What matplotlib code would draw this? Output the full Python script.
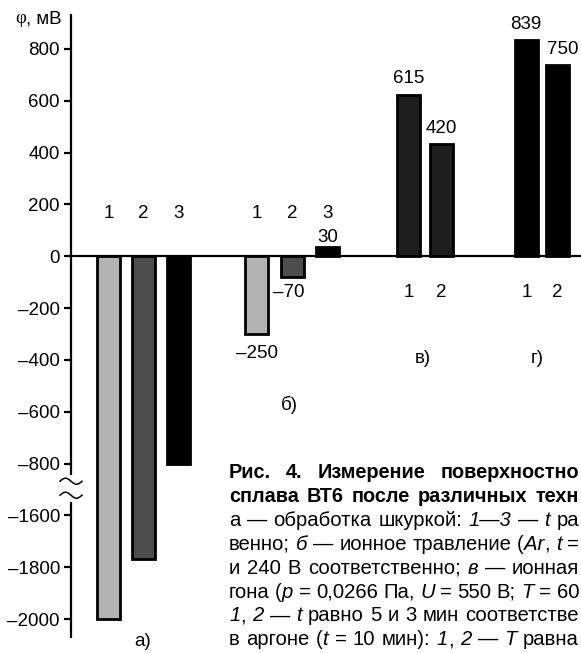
import numpy as np
import matplotlib
matplotlib.use('Agg')
import matplotlib.pyplot as plt
import matplotlib.transforms as mtransforms
from matplotlib.ticker import FixedLocator, FixedFormatter

plt.rcParams['font.family'] = ['Liberation Sans', 'DejaVu Sans']

# ---------------- data ----------------
group_names = ['а)', 'б)', 'в)', 'г)']
a_values = [-2000, -1770, -800]
b_values = [-300, -80, 35]
v_values = [623, 433]
g_values = [836, 739]
a_numbers = ['1', '2', '3']
b_numbers = ['1', '2', '3']
v_numbers = ['1', '2']
g_numbers = ['1', '2']
b_value_labels = ['–250', '–70', '30']
v_value_labels = ['615', '420']
g_value_labels = ['839', '750']
ytick_values = [800, 600, 400, 200, 0, -200, -400, -600, -800, -1600, -1800, -2000]
ytick_labels = ['800', '600', '400', '200', '0', '–200', '–400', '–600', '–800',
                '–1600', '–1800', '–2000']
ylabel_symbol = 'φ'
ylabel_unit = ', мВ'

# visible part of the figure caption; '|' toggles italic
caption_lines = [
    ('bold', 'Рис. 4. Измерение поверхностно'),
    ('bold', 'сплава ВТ6 после различных техн'),
    ('normal', 'а — обработка шкуркой: |1—3| — |t| ра'),
    ('normal', 'венно; |б| — ионное травление (|Ar|, |t| ='),
    ('normal', 'и 240 В соответственно; |в| — ионная'),
    ('normal', 'гона (|p| = 0,0266 Па, |U| = 550 В; |T| = 60'),
    ('normal', '|1|, |2| — |t| равно 5 и 3 мин соответстве'),
    ('normal', 'в аргоне (|t| = 10 мин): |1|, |2| — |T| равна'),
]

# ---------------- styles / layout ----------------
LIGHT = '#b3b3b3'
MID = '#4d4d4d'
DARK = '#1e1e1e'
BLACK = '#000000'
a_colors = [LIGHT, MID, BLACK]
b_colors = [LIGHT, MID, BLACK]
v_colors = [DARK, DARK]
g_colors = [BLACK, BLACK]

W, H = 581, 653
fig = plt.figure(figsize=(W / 100, H / 100), dpi=100)
ax = fig.add_axes([71 / W, 15 / H, 510 / W, 624 / H])


def fwd(v):
    v = np.asarray(v, dtype=float)
    return np.where(v >= -800, v,
                    np.where(v >= -1600, -800 + (v + 800) * 0.25, v + 600))


def inv(d):
    d = np.asarray(d, dtype=float)
    return np.where(d >= -800, d,
                    np.where(d >= -1000, -800 + (d + 800) * 4.0, d - 600))


ax.set_yscale('function', functions=(fwd, inv))
ax.set_xlim(0, 510)
ax.set_ylim(-2073, 935)

BAR_W = 23
groups = [
    (a_values, a_colors, 37.5, 35.0),
    (b_values, b_colors, 185.5, 35.5),
    (v_values, v_colors, 337.5, 32.5),
    (g_values, g_colors, 455.5, 31.0),
]
positions = []
for vals, cols, x0, step in groups:
    xs = [x0 + i * step for i in range(len(vals))]
    positions.append(xs)
    ax.bar(xs, vals, width=BAR_W, color=cols, edgecolor='black',
           linewidth=2.0, zorder=3)

ax.axhline(0, color='black', lw=1.6, zorder=2)

for s in ['top', 'right', 'bottom', 'left']:
    ax.spines[s].set_visible(False)
ax.set_xticks([])
ax.yaxis.set_major_locator(FixedLocator(ytick_values))
ax.yaxis.set_major_formatter(FixedFormatter(ytick_labels))
ax.yaxis.set_minor_locator(FixedLocator([]))
ax.tick_params(axis='y', direction='out', length=5, width=1.6,
               labelsize=13.5, pad=3)

# broken left axis line
bt = mtransforms.blended_transform_factory(ax.transAxes, ax.transData)
ax.plot([0, 0], [935, -980], transform=bt, color='black', lw=1.6,
        clip_on=False, solid_capstyle='butt')
ax.plot([0, 0], [-1396, -2073], transform=bt, color='black', lw=1.6,
        clip_on=False, solid_capstyle='butt')
px_per_unit = 0.2591
xs_px = np.linspace(-11, 11, 60)
for yc in [-1072, -1288]:
    off_px = -3.0 * np.sin(np.pi * xs_px / 11)
    ax.plot(xs_px / 510, yc + off_px / px_per_unit * 4.0, transform=bt,
            color='black', lw=1.1, clip_on=False)

FS = 13.5
for xs, nums, yv in [(positions[0], a_numbers, 167), (positions[1], b_numbers, 167),
                     (positions[2], v_numbers, -138), (positions[3], g_numbers, -138)]:
    for x, n in zip(xs, nums):
        ax.text(x, yv, n, ha='center', va='center', fontsize=FS)


def vlabel(x, val, txt, dy, dx=0):
    ax.annotate(txt, xy=(x, val), xytext=(dx, dy), textcoords='offset pixels',
                ha='center', va='center', fontsize=FS)


vlabel(positions[1][0], b_values[0], b_value_labels[0], -19)
vlabel(positions[1][1], b_values[1], b_value_labels[1], -15, -3)
vlabel(positions[1][2], b_values[2], b_value_labels[2], 10)
for x, v, t in zip(positions[2], v_values, v_value_labels):
    vlabel(x, v, t, 16)
vlabel(positions[3][0], g_values[0], g_value_labels[0], 15, -1)
vlabel(positions[3][1], g_values[1], g_value_labels[1], 15, 5)

for name, (gx, gy) in zip(group_names, [(72, -2085), (218, -575), (352, -393), (466, -393)]):
    ax.text(gx, gy, name, ha='center', va='center', fontsize=FS)

# ---------- text helpers ----------
renderer = fig.canvas.get_renderer()


def _w(s, **kw):
    t = fig.text(0, 0, s, **kw)
    w = t.get_window_extent(renderer).width
    t.remove()
    return w


def seg_width(s, **kw):
    return _w('H' + s + 'H', **kw) - _w('HH', **kw)


def justified_line(x0, x1, y_base, line, **kw):
    tokens = []
    for j, part in enumerate(line.split('|')):
        italic = (j % 2 == 1)
        for k, word in enumerate(part.split(' ')):
            if k > 0:
                tokens.append((' ', italic, True))
            if word:
                tokens.append((word, italic, False))
    widths = []
    for txt, italic, _ in tokens:
        st = dict(kw, fontstyle='italic' if italic else 'normal')
        widths.append(seg_width(txt, **st))
    nspace = sum(1 for t in tokens if t[2])
    extra = (x1 - x0 - sum(widths)) / max(nspace, 1)
    x = x0
    for (txt, italic, is_space), w in zip(tokens, widths):
        if is_space:
            x += w + extra
            continue
        st = dict(kw, fontstyle='italic' if italic else 'normal')
        fig.text(x / W, 1 - y_base / H, txt, ha='left', va='baseline', **st)
        x += w


# y label
sym_w = seg_width(ylabel_symbol, fontsize=FS, family='Liberation Serif')
unit_w = seg_width(ylabel_unit, fontsize=FS)
fig.text((62 - unit_w) / W, 1 - 23 / H, ylabel_unit, ha='left', va='baseline',
         fontsize=FS)
fig.text((62 - unit_w - sym_w) / W, 1 - 23 / H, ylabel_symbol, ha='left',
         va='baseline', fontsize=FS, family='Liberation Serif')

# caption (justified to the right edge)
for i, (wt, line) in enumerate(caption_lines):
    fs = 14.3 if wt == 'bold' else 14.6
    justified_line(229, 579, 478.5 + 23.8 * i, line, fontsize=fs, fontweight=wt)

fig.savefig('out.png', dpi=100)
